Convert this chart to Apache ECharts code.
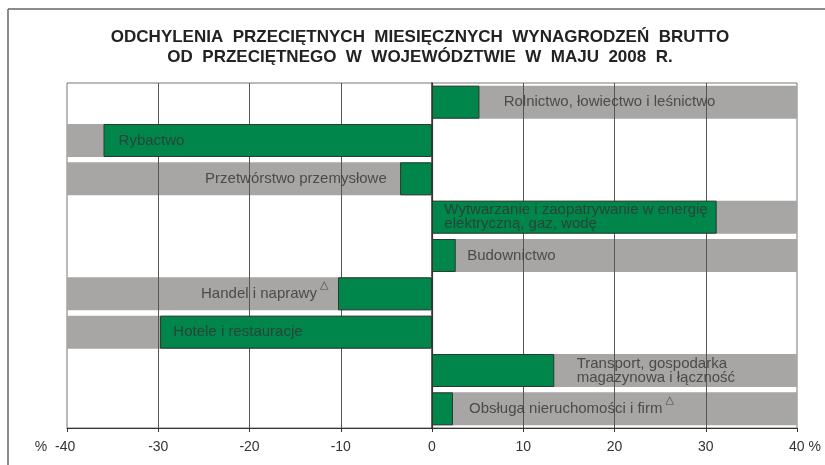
<!DOCTYPE html>
<html>
<head>
<meta charset="utf-8">
<script src="https://cdn.jsdelivr.net/npm/echarts@6/dist/echarts.min.js"></script>
<style>html,body{margin:0;padding:0;background:#fff}#c{width:825px;height:465px}</style>
</head>
<body>
<div id="c"></div>
<script>
// ---- data ----
const titleLines = ['ODCHYLENIA  PRZECIĘTNYCH  MIESIĘCZNYCH  WYNAGRODZEŃ  BRUTTO', 'OD  PRZECIĘTNEGO  W  WOJEWÓDZTWIE  W  MAJU  2008  R.'];
const categories = [
  'Rolnictwo, łowiectwo i leśnictwo',
  'Rybactwo',
  'Przetwórstwo przemysłowe',
  'Wytwarzanie i zaopatrywanie w energię\nelektryczną, gaz, wodę',
  'Budownictwo',
  'Handel i naprawy',
  'Hotele i restauracje',
  'Transport, gospodarka\nmagazynowa i łączność',
  'Obsługa nieruchomości i firm'
];
const deviation = [5.2, -36.0, -3.5, 31.2, 2.6, -10.3, -29.8, 13.4, 2.3];
const footnoteMark = [false, false, false, false, false, true, false, false, true];
const axisMin = -40, axisMax = 40, axisStep = 10;
const gridValues = [-30, -20, -10, 0, 10, 20, 30];

// ---- layout (label anchor in axis units, and side) ----
const labelAnchor = [7.8, -34.4, -4.9, 1.3, 3.8, -11.3, -28.4, 15.8, 4.0];
const labelSide = ['right', 'right', 'left', 'right', 'right', 'left', 'right', 'right', 'right'];

const GREEN = '#00864a', GRAY = '#a8a6a4', TXT = '#333';
const FONT = 'Liberation Sans';

const bgData = deviation.map(v => v >= 0 ? axisMax : axisMin);
const labelData = categories.map((c, i) => ({
  value: [labelAnchor[i], i],
  label: {
    position: labelSide[i],
    formatter: '{a|' + c.split('\n').join('}\n{a|') + '}' + (footnoteMark[i] ? '{t|△}' : '')
  }
}));

const chart = echarts.init(document.getElementById('c'), null, {renderer: 'canvas'});
chart.setOption({
  animation: false,
  backgroundColor: '#fff',
  title: {
    text: titleLines.join('\n'),
    left: 415, top: 22, textAlign: 'center',
    textStyle: {fontFamily: FONT, fontWeight: 'bold', fontSize: 17, lineHeight: 20, color: '#222'}
  },
  graphic: [
    {type: 'line', shape: {x1: 8, y1: 9, x2: 825, y2: 9}, style: {stroke: '#666', lineWidth: 1.5}, silent: true},
    {type: 'line', shape: {x1: 8, y1: 9, x2: 8, y2: 465}, style: {stroke: '#666', lineWidth: 1.5}, silent: true}
  ],
  grid: {left: 67, right: 28, top: 83, bottom: 37, show: true, borderColor: '#777', borderWidth: 1, backgroundColor: 'transparent'},
  xAxis: {
    type: 'value', min: axisMin, max: axisMax, interval: axisStep,
    axisLine: {show: true, onZero: false, lineStyle: {color: '#333', width: 1}},
    axisTick: {show: true, length: 4, lineStyle: {color: '#333'}},
    splitLine: {show: false},
    axisLabel: {
      margin: 12, color: TXT, fontFamily: FONT, fontSize: 14,
      formatter: v => v === axisMin ? '{l|%  ' + v + '}' : (v === axisMax ? '{r|' + v + ' %}' : String(v)),
      rich: {
        l: {fontFamily: FONT, fontSize: 14, color: TXT, padding: [0, 24, 0, 0]},
        r: {fontFamily: FONT, fontSize: 14, color: TXT, padding: [0, 0, 0, 16]}
      }
    }
  },
  yAxis: {
    type: 'category', data: categories, inverse: true,
    axisLine: {show: true, lineStyle: {color: '#333', width: 1.5}},
    axisTick: {show: false}, axisLabel: {show: false}, splitLine: {show: false}
  },
  series: [
    {
      type: 'bar', name: 'bg', data: bgData, z: 1, zlevel: 0, barCategoryGap: '14%', barGap: '-100%',
      itemStyle: {color: GRAY}, silent: true,
      markLine: {
        z: 3, zlevel: 0, silent: true, symbol: 'none', label: {show: false},
        lineStyle: {color: '#555', width: 1, type: 'solid'},
        data: gridValues.map(v => ({xAxis: v, lineStyle: v === 0 ? {color: '#333', width: 1.2, type: 'solid'} : undefined}))
      }
    },
    {
      type: 'bar', name: 'odchylenie', data: deviation, z: 2, zlevel: 1, barCategoryGap: '14%', barGap: '-100%',
      itemStyle: {color: GREEN, borderColor: '#2a3a30', borderWidth: 1}
    },
    {
      type: 'scatter', name: 'labels', data: labelData, z: 5, zlevel: 1, symbolSize: 1,
      itemStyle: {color: 'rgba(0,0,0,0)'}, silent: true,
      label: {
        show: true, distance: 0, color: TXT,
        rich: {
          a: {fontFamily: FONT, fontSize: 15, color: TXT, lineHeight: 14},
          t: {fontFamily: 'DejaVu Sans', fontSize: 11, color: TXT, padding: [0, 0, 18, 3]}
        }
      }
    }
  ]
});
</script>
</body>
</html>
